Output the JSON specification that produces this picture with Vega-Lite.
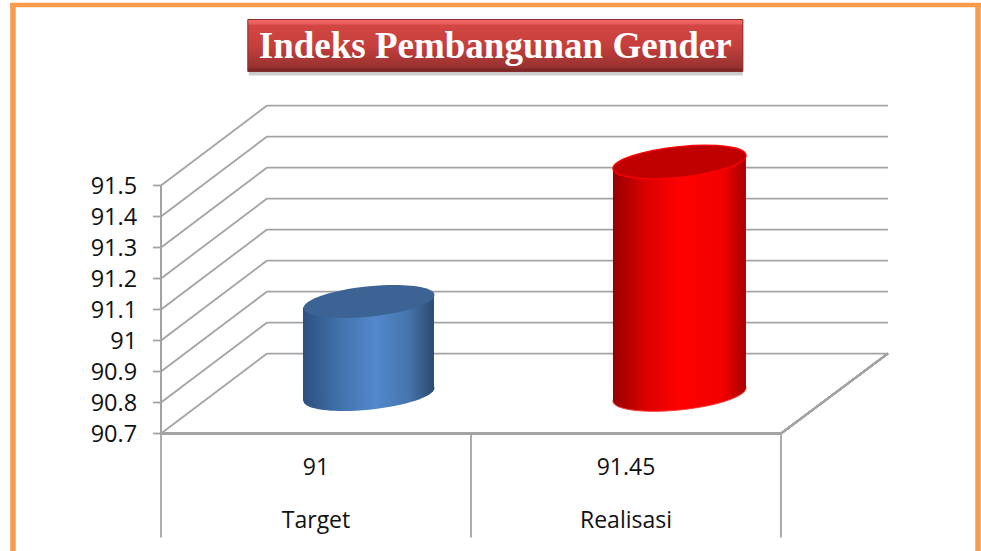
{
"$schema":"https://vega.github.io/schema/vega-lite/v6.json",
"width":981,"height":551,"padding":0,"autosize":"none","background":"white",
"config":{"view":{"stroke":null},"axis":{"disable":true},"legend":{"disable":true}},
"datasets":{
"grid":[{"v":90.7,"back":90.958,"label":"90.7"},{"v":90.8,"back":91.058,"label":"90.8"},{"v":90.9,"back":91.158,"label":"90.9"},{"v":91.0,"back":91.258,"label":"91"},{"v":91.1,"back":91.358,"label":"91.1"},{"v":91.2,"back":91.458,"label":"91.2"},{"v":91.3,"back":91.558,"label":"91.3"},{"v":91.4,"back":91.658,"label":"91.4"},{"v":91.5,"back":91.758,"label":"91.5"}],
"bars":[{"category":"Target","value":91,"label":"91","pos":0.5},{"category":"Realisasi","value":91.45,"label":"91.45","pos":1.5}],
"sides":[{"category":"Target","u":0.458,"top":91.1065,"base":90.805},{"category":"Target","u":0.8806,"top":91.148,"base":90.845},{"category":"Realisasi","u":1.458,"top":91.556,"base":90.805},{"category":"Realisasi","u":1.887,"top":91.598,"base":90.845}],
"frame":[{"x0":-0.4775,"x1":-0.4775,"y0":90.321,"y1":92.083},{"x0":2.6355,"x1":2.6355,"y0":90.321,"y1":92.083}],
"frameTop":[{"x0":-0.4865,"x1":2.6452,"y0":92.0823}],
"table":[{"u":0},{"u":1},{"u":2}],
"banner":[{"text":"Indeks Pembangunan Gender","x0":0.28,"x1":1.877,"y0":91.8677,"y1":92.0355,"xm":1.078,"ym":91.947}]
},
"data":{"name":"grid"},
"layer":[
{"data":{"name":"frame"},"mark":{"type":"rule","color":"#f99b4c","strokeWidth":5.5},"encoding":{"x":{"field":"x0","type":"quantitative","scale":{"domain":[-0.5194,2.6452]}},"y":{"field":"y0","type":"quantitative","scale":{"domain":[90.321,92.0984]}},"y2":{"field":"y1"}}},
{"data":{"name":"frameTop"},"mark":{"type":"rule","color":"#f99b4c","strokeWidth":4.5},"encoding":{"x":{"field":"x0","type":"quantitative","scale":{"domain":[-0.5194,2.6452]}},"x2":{"field":"x1"},"y":{"field":"y0","type":"quantitative","scale":{"domain":[90.321,92.0984]}}}},
{"mark":{"type":"rule","color":"#a3a3a3","strokeWidth":1.8},"encoding":{"x":{"datum":0.342,"scale":{"domain":[-0.5194,2.6452]}},"x2":{"datum":2.345},"y":{"field":"back","type":"quantitative","scale":{"domain":[90.321,92.0984]}}}},
{"mark":{"type":"rule","color":"#a3a3a3","strokeWidth":1.8},"encoding":{"x":{"datum":0,"scale":{"domain":[-0.5194,2.6452]}},"x2":{"datum":0.342},"y":{"field":"v","type":"quantitative","scale":{"domain":[90.321,92.0984]}},"y2":{"field":"back"}}},
{"mark":{"type":"rule","color":"#a3a3a3","strokeWidth":1.8},"encoding":{"x":{"datum":-0.026,"scale":{"domain":[-0.5194,2.6452]}},"x2":{"datum":0},"y":{"field":"v","type":"quantitative","scale":{"domain":[90.321,92.0984]}}}},
{"mark":{"type":"rule","color":"#a3a3a3","strokeWidth":1.8},"encoding":{"x":{"datum":0,"scale":{"domain":[-0.5194,2.6452]}},"y":{"datum":90.7,"scale":{"domain":[90.321,92.0984]}},"y2":{"datum":91.5}}},
{"mark":{"type":"rule","color":"#a3a3a3","strokeWidth":1.8},"encoding":{"x":{"datum":0,"scale":{"domain":[-0.5194,2.6452]}},"x2":{"datum":2},"y":{"datum":90.7,"scale":{"domain":[90.321,92.0984]}}}},
{"mark":{"type":"rule","color":"#a3a3a3","strokeWidth":1.8},"encoding":{"x":{"datum":2,"scale":{"domain":[-0.5194,2.6452]}},"x2":{"datum":2.345},"y":{"datum":90.7,"scale":{"domain":[90.321,92.0984]}},"y2":{"datum":90.958}}},
{"data":{"name":"table"},"mark":{"type":"rule","color":"#a3a3a3","strokeWidth":1.8},"encoding":{"x":{"field":"u","type":"quantitative","scale":{"domain":[-0.5194,2.6452]}},"y":{"datum":90.7,"scale":{"domain":[90.321,92.0984]}},"y2":{"datum":90.3645}}},
{"mark":{"type":"text","align":"right","baseline":"middle","font":"Open Sans","fontSize":23.5,"dy":1,"color":"#111111"},"encoding":{"x":{"datum":-0.077,"scale":{"domain":[-0.5194,2.6452]}},"y":{"field":"v","type":"quantitative","scale":{"domain":[90.321,92.0984]}},"text":{"field":"label"}}},
{"data":{"name":"bars"},"transform":[{"filter":"datum.category==='Target'"}],"mark":{"type":"point","filled":true,"opacity":1,"size":17161,"xOffset":53,"yOffset":-39,"shape":"M1,-0.099C1,0.029,0.553,0.177,0,0.232C-0.553,0.287,-1,0.227,-1,0.099C-1,-0.029,-0.553,-0.177,0,-0.232C0.553,-0.287,1,-0.227,1,-0.099Z","fill":{"x1":0,"x2":1,"y1":0,"y2":0,"gradient":"linear","stops":[{"offset":0,"color":"#2c5080"},{"offset":0.3,"color":"#4474ae"},{"offset":0.55,"color":"#5388cc"},{"offset":0.8,"color":"#4675ad"},{"offset":1,"color":"#2b4a70"}]}},"encoding":{"x":{"field":"pos","type":"quantitative","scale":{"domain":[-0.5194,2.6452]}},"y":{"datum":90.7,"scale":{"domain":[90.321,92.0984]}}}},
{"data":{"name":"bars"},"transform":[{"filter":"datum.category==='Realisasi'"}],"mark":{"type":"point","filled":true,"opacity":1,"size":17689,"xOffset":53.5,"yOffset":-39,"stroke":"#ff3030","strokeWidth":1,"shape":"M1,-0.099C1,0.029,0.553,0.177,0,0.232C-0.553,0.287,-1,0.227,-1,0.099C-1,-0.029,-0.553,-0.177,0,-0.232C0.553,-0.287,1,-0.227,1,-0.099Z","fill":{"x1":0,"x2":1,"y1":0,"y2":0,"gradient":"linear","stops":[{"offset":0,"color":"#960000"},{"offset":0.25,"color":"#dc0000"},{"offset":0.5,"color":"#ff0000"},{"offset":0.82,"color":"#f40000"},{"offset":1,"color":"#a80000"}]}},"encoding":{"x":{"field":"pos","type":"quantitative","scale":{"domain":[-0.5194,2.6452]}},"y":{"datum":90.7,"scale":{"domain":[90.321,92.0984]}}}},
{"data":{"name":"sides"},"transform":[{"filter":"datum.category==='Target'"}],"mark":{"type":"area","opacity":1,"fill":{"x1":0,"x2":1,"y1":0,"y2":0,"gradient":"linear","stops":[{"offset":0,"color":"#2c5080"},{"offset":0.3,"color":"#4474ae"},{"offset":0.55,"color":"#5388cc"},{"offset":0.8,"color":"#4675ad"},{"offset":1,"color":"#2b4a70"}]}},"encoding":{"x":{"field":"u","type":"quantitative","scale":{"domain":[-0.5194,2.6452]}},"y":{"field":"top","type":"quantitative","stack":null,"scale":{"domain":[90.321,92.0984]}},"y2":{"field":"base"}}},
{"data":{"name":"sides"},"transform":[{"filter":"datum.category==='Realisasi'"}],"mark":{"type":"area","opacity":1,"fill":{"x1":0,"x2":1,"y1":0,"y2":0,"gradient":"linear","stops":[{"offset":0,"color":"#960000"},{"offset":0.25,"color":"#dc0000"},{"offset":0.5,"color":"#ff0000"},{"offset":0.82,"color":"#f40000"},{"offset":1,"color":"#a80000"}]}},"encoding":{"x":{"field":"u","type":"quantitative","scale":{"domain":[-0.5194,2.6452]}},"y":{"field":"top","type":"quantitative","stack":null,"scale":{"domain":[90.321,92.0984]}},"y2":{"field":"base"}}},
{"data":{"name":"bars"},"transform":[{"filter":"datum.category==='Target'"}],"mark":{"type":"point","filled":true,"opacity":1,"size":17161,"xOffset":53,"yOffset":-39,"fill":"#3b6494","shape":"M1,-0.099C1,0.029,0.553,0.177,0,0.232C-0.553,0.287,-1,0.227,-1,0.099C-1,-0.029,-0.553,-0.177,0,-0.232C0.553,-0.287,1,-0.227,1,-0.099Z"},"encoding":{"x":{"field":"pos","type":"quantitative","scale":{"domain":[-0.5194,2.6452]}},"y":{"field":"value","type":"quantitative","scale":{"domain":[90.321,92.0984]}}}},
{"data":{"name":"bars"},"transform":[{"filter":"datum.category==='Realisasi'"}],"mark":{"type":"point","filled":true,"opacity":1,"size":17689,"xOffset":53.5,"yOffset":-39,"fill":"#c00000","stroke":"#ff0000","strokeWidth":1.4,"shape":"M1,-0.099C1,0.029,0.553,0.177,0,0.232C-0.553,0.287,-1,0.227,-1,0.099C-1,-0.029,-0.553,-0.177,0,-0.232C0.553,-0.287,1,-0.227,1,-0.099Z"},"encoding":{"x":{"field":"pos","type":"quantitative","scale":{"domain":[-0.5194,2.6452]}},"y":{"field":"value","type":"quantitative","scale":{"domain":[90.321,92.0984]}}}},
{"data":{"name":"bars"},"mark":{"type":"text","align":"center","baseline":"middle","font":"Open Sans","fontSize":23,"dy":34,"color":"#111111"},"encoding":{"x":{"field":"pos","type":"quantitative","scale":{"domain":[-0.5194,2.6452]}},"y":{"datum":90.7,"scale":{"domain":[90.321,92.0984]}},"text":{"field":"label"}}},
{"data":{"name":"bars"},"mark":{"type":"text","align":"center","baseline":"middle","font":"Open Sans","fontSize":23,"dy":87,"color":"#111111"},"encoding":{"x":{"field":"pos","type":"quantitative","scale":{"domain":[-0.5194,2.6452]}},"y":{"datum":90.7,"scale":{"domain":[90.321,92.0984]}},"text":{"field":"category"}}},
{"data":{"name":"banner"},"mark":{"type":"rect","fill":"#555555","opacity":0.3,"xOffset":1,"yOffset":4},"encoding":{"x":{"field":"x0","type":"quantitative","scale":{"domain":[-0.5194,2.6452]}},"x2":{"field":"x1"},"y":{"field":"y0","type":"quantitative","scale":{"domain":[90.321,92.0984]}},"y2":{"field":"y1"}}},
{"data":{"name":"banner"},"mark":{"type":"rect","stroke":"#8a2a2a","strokeWidth":1,"fill":{"x1":0,"x2":0,"y1":0,"y2":1,"gradient":"linear","stops":[{"offset":0,"color":"#f26a68"},{"offset":0.08,"color":"#ea5f5c"},{"offset":0.11,"color":"#d24643"},{"offset":0.5,"color":"#c63f3c"},{"offset":0.92,"color":"#983230"},{"offset":0.95,"color":"#7d2827"},{"offset":1,"color":"#7a2726"}]}},"encoding":{"x":{"field":"x0","type":"quantitative","scale":{"domain":[-0.5194,2.6452]}},"x2":{"field":"x1"},"y":{"field":"y0","type":"quantitative","scale":{"domain":[90.321,92.0984]}},"y2":{"field":"y1"}}},
{"data":{"name":"banner"},"mark":{"type":"text","align":"center","baseline":"middle","font":"Liberation Serif","fontWeight":"bold","fontSize":37,"color":"white"},"encoding":{"x":{"field":"xm","type":"quantitative","scale":{"domain":[-0.5194,2.6452]}},"y":{"field":"ym","type":"quantitative","scale":{"domain":[90.321,92.0984]}},"text":{"field":"text"}}}
]
}
